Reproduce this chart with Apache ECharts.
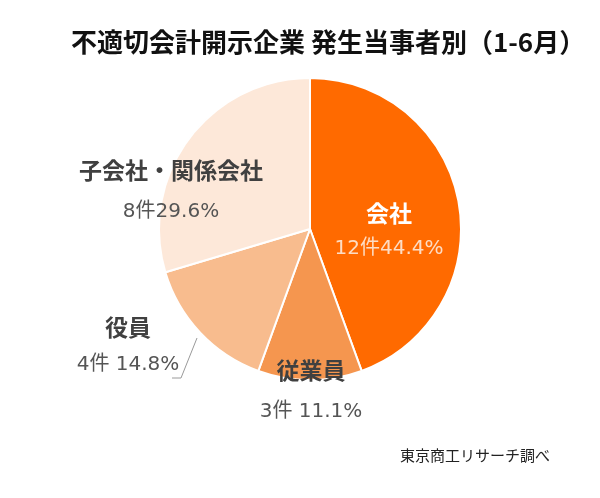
<!DOCTYPE html>
<html>
<head>
<meta charset="utf-8">
<script src="https://cdn.jsdelivr.net/npm/echarts@6/dist/echarts.min.js"></script>
<style>html,body{margin:0;padding:0;background:#fff}#c{width:600px;height:498px}</style>
</head>
<body>
<div id="c"></div>
<script>
var titleText = '不適切会計開示企業 発生当事者別（1-6月）';
var sourceText = '東京商工リサーチ調べ';
var categories = ['会社', '従業員', '役員', '子会社・関係会社'];
var counts = [12, 3, 4, 8];
var separators = ['', ' ', ' ', ''];
var colors = ['#FF6A00', '#F5964F', '#F8BC8E', '#FDE8D9'];

// label block positions (chart pixels) and styling per slice
var labelPos = [[389, 231], [311, 391], [128, 346], [171, 191]];
var nameColors = ['#FFFFFF', '#404040', '#404040', '#404040'];
var valueColors = ['#FDDCC4', '#555555', '#555555', '#555555'];
var lineHeights = [36, 42, 37, 41];
var leaderPoints = [[197, 338], [181, 378], [172, 378]];

var cjk = '"Noto Sans CJK JP", "Noto Sans", sans-serif';
var numFont = '"DejaVu Sans", "Noto Sans CJK JP", sans-serif';
var total = counts.reduce(function (a, b) { return a + b; }, 0);

var data = categories.map(function (name, i) {
  return {
    name: name,
    value: counts[i],
    itemStyle: { color: colors[i] },
    label: {
      rich: {
        n: { fontFamily: cjk, fontSize: 23, fontWeight: 'bold', color: nameColors[i], lineHeight: lineHeights[i], align: 'center' },
        v: { fontFamily: numFont, fontSize: 20, color: valueColors[i], lineHeight: lineHeights[i], align: 'center' }
      }
    },
    labelLine: { show: i === 2 }
  };
});

var chart = echarts.init(document.getElementById('c'), null, { renderer: 'canvas' });
chart.setOption({
  animation: false,
  backgroundColor: '#ffffff',
  title: [
    { text: titleText, left: 66, top: 24, textStyle: { fontFamily: cjk, fontSize: 26, fontWeight: 'bold', color: '#111111' } },
    { text: sourceText, left: 395, top: 443, textStyle: { fontFamily: cjk, fontSize: 15, fontWeight: 'normal', color: '#222222' } }
  ],
  series: [{
    type: 'pie',
    center: [310, 229],
    radius: [0, 151],
    startAngle: 90,
    clockwise: true,
    avoidLabelOverlap: false,
    itemStyle: { borderColor: '#ffffff', borderWidth: 2 },
    label: {
      show: true,
      position: 'outside',
      formatter: function (p) {
        var pct = (p.value / total * 100).toFixed(1);
        return '{n|' + p.name + '}\n{v|' + p.value + '件' + separators[p.dataIndex] + pct + '%}';
      }
    },
    labelLine: { show: false, lineStyle: { color: '#9a9a9a', width: 1 } },
    labelLayout: function (params) {
      var pos = labelPos[params.dataIndex];
      var out = { x: pos[0], y: pos[1], align: 'center', verticalAlign: 'middle' };
      if (params.dataIndex === 2) { out.labelLinePoints = leaderPoints; }
      return out;
    },
    data: data
  }]
});
</script>
</body>
</html>
